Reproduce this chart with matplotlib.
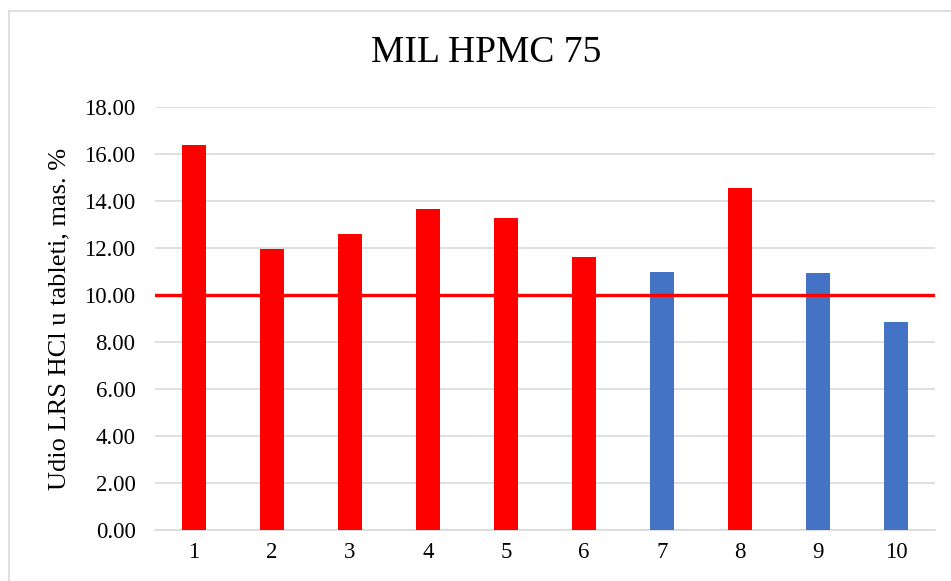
import matplotlib
matplotlib.use("Agg")
import matplotlib.pyplot as plt
from matplotlib.lines import Line2D

samples = ["1", "2", "3", "4", "5", "6", "7", "8", "9", "10"]
values = [16.38, 11.95, 12.59, 13.66, 13.28, 11.61, 10.99, 14.55, 10.92, 8.85]
above_limit = [True, True, True, True, True, True, False, True, False, False]
limit = 10.0
yticks = [0, 2, 4, 6, 8, 10, 12, 14, 16, 18]

RED = "#FF0000"
BLUE = "#4472C4"
GRID = "#D9D9D9"

plt.rcParams["font.family"] = ["Liberation Serif", "DejaVu Serif"]

W, H = 951, 581
fig = plt.figure(figsize=(W / 100, H / 100), dpi=100)
ax = fig.add_axes([155 / W, 1 - 530 / H, 780 / W, 423 / H])

x = list(range(1, len(samples) + 1))
colors = [RED if a else BLUE for a in above_limit]
ax.bar(x, values, width=0.32, color=colors, zorder=3)
ax.axhline(limit, color=RED, linewidth=2.4, zorder=4)

ax.set_xlim(0.5, len(samples) + 0.5)
ax.set_ylim(0, 18)
ax.set_yticks(yticks)
ax.set_yticklabels([f"{v:.2f}" for v in yticks])
ax.set_xticks(x)
ax.set_xticklabels(samples)
ax.tick_params(axis="both", length=0, labelsize=16.5, colors="#000000")
ax.tick_params(axis="y", pad=14)
ax.tick_params(axis="x", pad=9)

ax.grid(axis="y", color=GRID, linewidth=1.2, zorder=0)
for s in ["top", "right", "left"]:
    ax.spines[s].set_visible(False)
ax.spines["bottom"].set_color(GRID)
ax.spines["bottom"].set_linewidth(1.2)

ax.set_ylabel("Udio LRS HCl u tableti, mas. %", fontsize=19)
ax.yaxis.set_label_coords(-0.109, 0.5)

fig.text(486 / W, 1 - 53 / H, "MIL HPMC 75", fontsize=27, ha="center", va="center")

# chart border (light gray frame)
fig.add_artist(Line2D([9 / W, 9 / W], [0, 1 - 11 / H], color=GRID, linewidth=1.2,
                      transform=fig.transFigure))
fig.add_artist(Line2D([9 / W, 1], [1 - 11 / H, 1 - 11 / H], color=GRID, linewidth=1.2,
                      transform=fig.transFigure))

fig.savefig("out.png", dpi=100)
